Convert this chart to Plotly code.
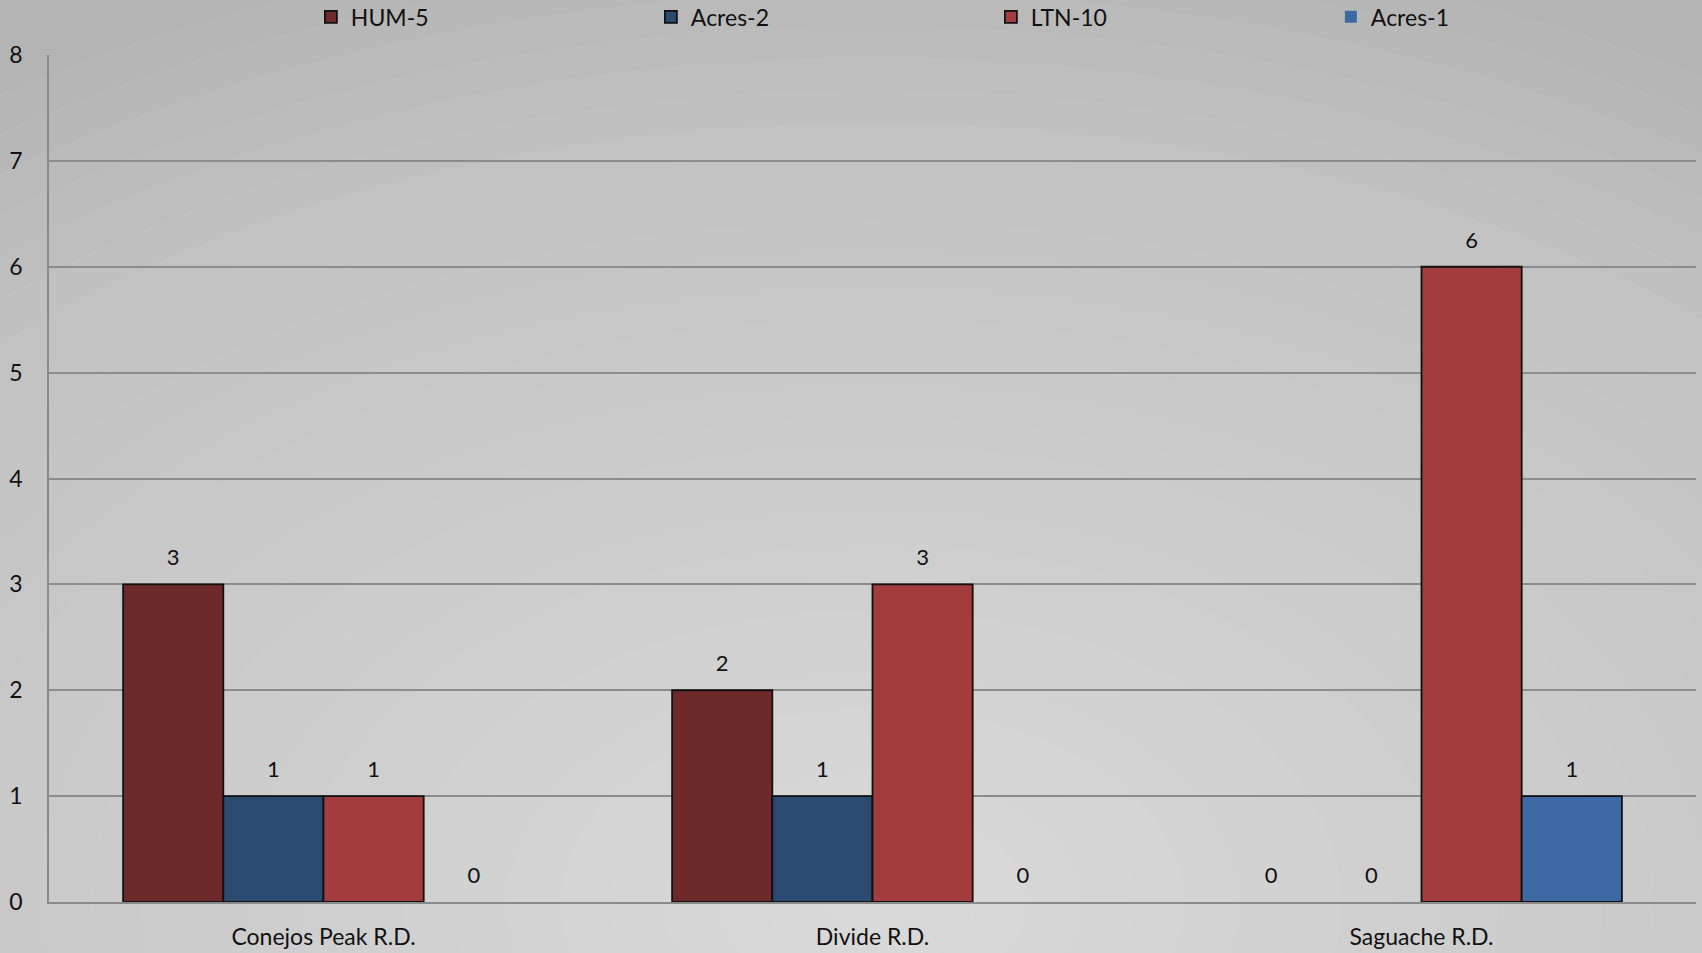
import plotly.graph_objects as go

categories = ["Conejos Peak R.D.", "Divide R.D.", "Saguache R.D."]
series_names = ["HUM-5", "Acres-2", "LTN-10", "Acres-1"]
hum5 = [3, 2, 0]
acres2 = [1, 1, 0]
ltn10 = [1, 3, 6]
acres1 = [0, 0, 1]
y_ticks = [0, 1, 2, 3, 4, 5, 6, 7, 8]

colors = ["#6e2a2a", "#2a4a6f", "#a33c3c", "#3d6aa3"]
values = [hum5, acres2, ltn10, acres1]

FONT = "Lato, 'Open Sans', sans-serif"
GAP = 0.27

fig = go.Figure()
for i, (name, vals, col) in enumerate(zip(series_names, values, colors)):
    fig.add_trace(go.Bar(
        name=name, x=categories, y=vals, offsetgroup=str(i),
        marker=dict(color=col, line=dict(color="#111111",
                                         width=[1.8 if v else 0 for v in vals])),
        cliponaxis=False,
    ))
for i, (name, vals) in enumerate(zip(series_names, values)):
    fig.add_trace(go.Scatter(
        x=categories, y=vals, offsetgroup=str(i), mode="markers+text",
        text=[str(v) for v in vals], textposition="top center",
        textfont=dict(size=22, color="#111111", family=FONT),
        marker=dict(size=20, opacity=0), showlegend=False, hoverinfo="skip",
        cliponaxis=False,
    ))

# radial-ish background glow
shapes = []
n = 30
for i in range(n):
    f = 1 - i / n
    shapes.append(dict(
        type="circle", xref="paper", yref="paper", layer="below",
        x0=0.5 - 0.95 * f, x1=0.5 + 0.95 * f,
        y0=0.0 - 1.15 * f, y1=0.0 + 1.15 * f,
        fillcolor="rgba(255,255,255,0.032)", line=dict(width=0),
    ))

fig.update_layout(
    width=1702, height=953,
    margin=dict(l=49, r=6, t=55, b=51, autoexpand=False),
    paper_bgcolor="#b4b4b4",
    plot_bgcolor="rgba(0,0,0,0)",
    barmode="group", bargap=GAP, bargroupgap=0,
    scattermode="group", scattergap=GAP,
    font=dict(family=FONT, size=22, color="#111111"),
    shapes=shapes,
    showlegend=True,
    legend=dict(
        orientation="h", x=0.159, xanchor="left",
        y=1.045, yref="paper", yanchor="middle",
        entrywidth=295, entrywidthmode="pixels",
        font=dict(size=23, family=FONT, color="#111111"),
        itemwidth=30, bgcolor="rgba(0,0,0,0)",
        traceorder="normal",
    ),
    xaxis=dict(
        showgrid=False, showline=True, linecolor="#8a8a8a", linewidth=1.5,
        ticks="", tickfont=dict(size=23, family=FONT), ticklabelstandoff=14,
    ),
    yaxis=dict(
        range=[0, 8], tickvals=y_ticks, showgrid=True, gridcolor="#8c8c8c",
        gridwidth=1.5, showline=True, linecolor="#8a8a8a", linewidth=1.5,
        zeroline=False, ticks="", tickfont=dict(size=23, family=FONT),
        ticklabelstandoff=20,
    ),
)

fig.write_html("out.html", config={"displayModeBar": False},
               post_script="document.body.style.margin='0';")
